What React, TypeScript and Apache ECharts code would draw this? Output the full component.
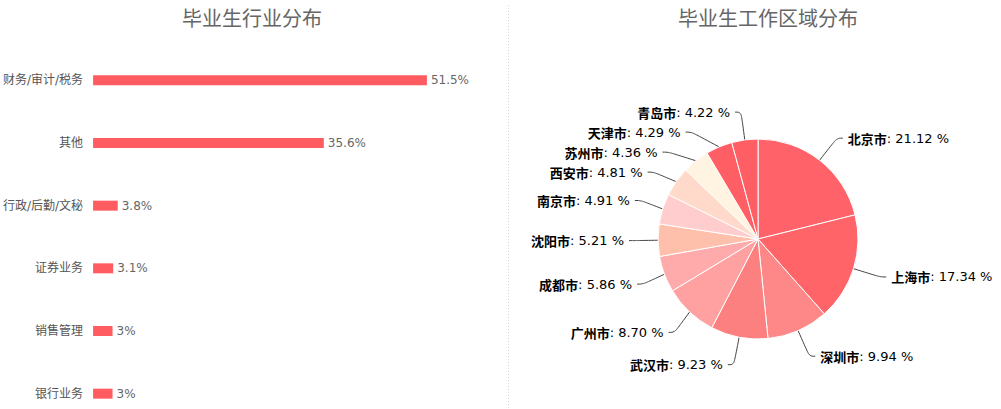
import React, { useEffect, useRef } from "react";
import * as echarts from "echarts";

const industryNames = ["财务/审计/税务", "其他", "行政/后勤/文秘", "证券业务", "销售管理", "银行业务"];
const industryValues = [51.5, 35.6, 3.8, 3.1, 3, 3];

const cityNames = ["北京市", "上海市", "深圳市", "武汉市", "广州市", "成都市", "沈阳市", "南京市", "西安市", "苏州市", "天津市", "青岛市"];
const cityValues = [21.12, 17.34, 9.94, 9.23, 8.7, 5.86, 5.21, 4.91, 4.81, 4.36, 4.29, 4.22];
const cityColors = ["#ff6369", "#ff6568", "#fe8888", "#fd8080", "#ffa1a1", "#ffabab", "#ffc0ab", "#ffcdcd", "#ffd9c9", "#fff3e2", "#ff5f64", "#ff5f64"];

export default function App() {
  const ref = useRef<HTMLDivElement>(null);
  useEffect(() => {
    if (!ref.current) return;
    const chart = echarts.init(ref.current, null, { renderer: "svg" });
    chart.setOption({
      animation: false,
      title: [
        {
          text: "毕业生行业分布",
          left: 247,
          top: 2,
          textAlign: "center",
          textStyle: { fontSize: 20, fontWeight: "normal", color: "#666", fontFamily: "Noto Sans CJK SC" },
        },
        {
          text: "毕业生工作区域分布",
          left: 763,
          top: 2,
          textAlign: "center",
          textStyle: { fontSize: 20, fontWeight: "normal", color: "#666", fontFamily: "Noto Sans CJK SC" },
        },
      ],
      graphic: [
        {
          type: "line",
          shape: { x1: 508.5, y1: 5, x2: 508.5, y2: 425 },
          style: { stroke: "#d4d4d4", lineWidth: 1, lineDash: [1, 2] },
        },
      ],
      grid: { left: 92, top: 49, width: 390, height: 376 },
      xAxis: { type: "value", min: 0, max: 60, show: false },
      yAxis: {
        type: "category",
        inverse: true,
        data: industryNames,
        axisLine: { show: false },
        axisTick: { show: false },
        axisLabel: { margin: 10, color: "#555", fontSize: 12, fontFamily: "DejaVu Sans, Noto Sans CJK SC" },
      },
      series: [
        {
          type: "bar",
          data: industryValues,
          barWidth: 10,
          itemStyle: { color: "#fe5c61" },
          label: {
            show: true,
            position: "right",
            distance: 4,
            formatter: "{c}%",
            color: "#666",
            fontSize: 12,
            fontFamily: "DejaVu Sans",
          },
        },
        {
          type: "pie",
          center: [758, 239],
          radius: [0, 100],
          startAngle: 90,
          clockwise: true,
          avoidLabelOverlap: true,
          itemStyle: { borderColor: "#fff", borderWidth: 1 },
          label: {
            show: true,
            color: "#000",
            fontSize: 13,
            lineHeight: 18,
            bleedMargin: 0,
            fontFamily: "DejaVu Sans, Noto Sans CJK SC",
            formatter: (p: any) => `{b|${p.name}}: ${Number(p.value).toFixed(2)} %`,
            rich: {
              b: { fontWeight: "bold", fontSize: 13, lineHeight: 18, color: "#000", fontFamily: "Noto Sans CJK SC" },
            },
          },
          labelLine: {
            show: true,
            length: 28,
            length2: 6,
            smooth: 0.4,
            lineStyle: { color: "#444", width: 1 },
          },
          data: cityNames.map((n, i) => ({ name: n, value: cityValues[i], itemStyle: { color: cityColors[i] } })),
        },
      ],
    });
    return () => chart.dispose();
  }, []);
  return (
    <div style={{ position: "absolute", left: 0, top: 0, width: 1001, height: 409, overflow: "hidden" }}>
      <div ref={ref} style={{ width: 1001, height: 425 }} />
    </div>
  );
}
